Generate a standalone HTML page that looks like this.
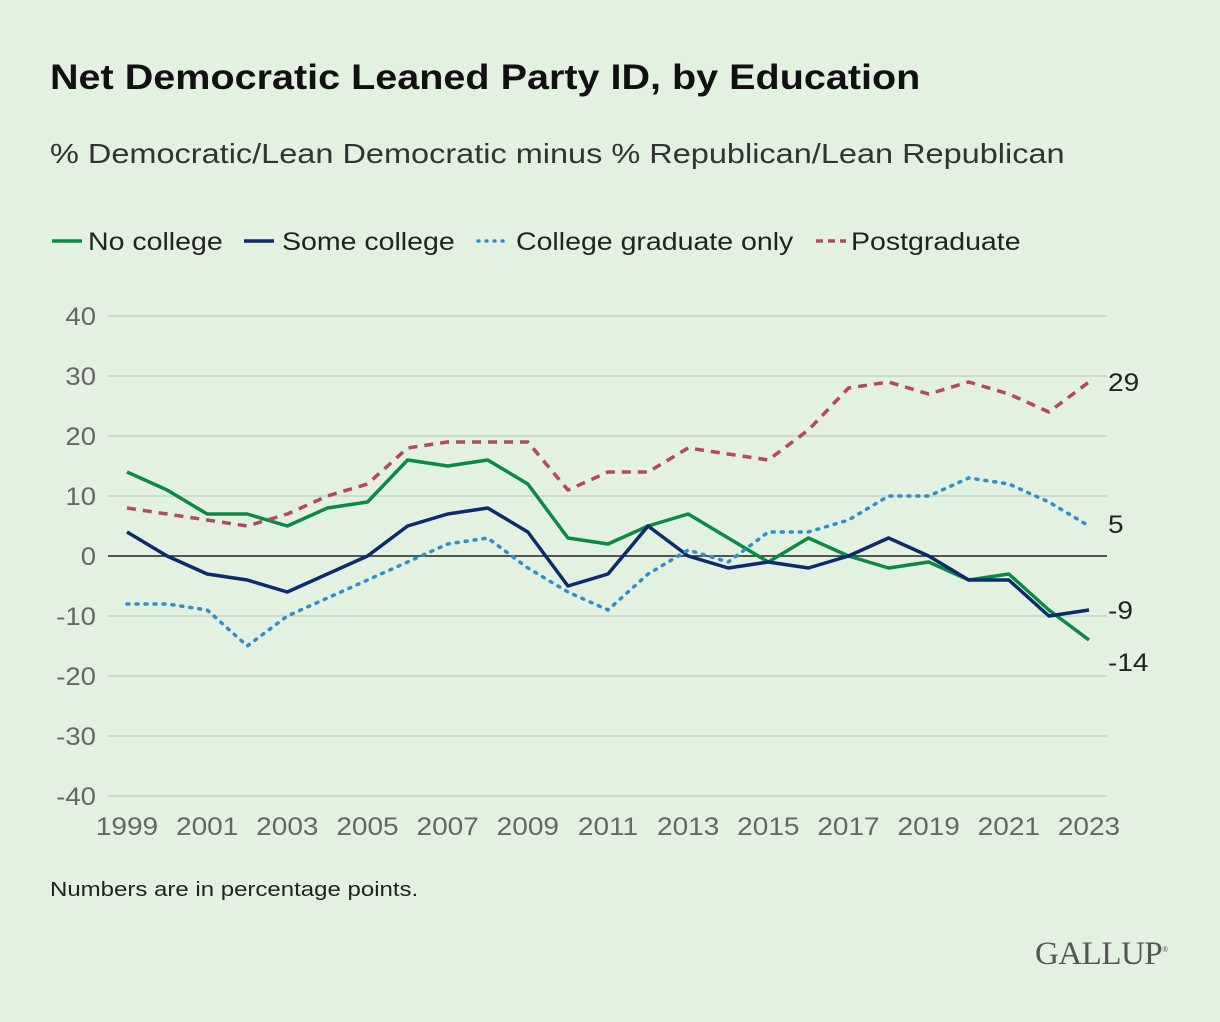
<!DOCTYPE html>
<html><head><meta charset="utf-8"><style>
body{margin:0;background:#e3f1e1;}
#wrap{position:relative;width:1220px;height:1022px;background:#e3f1e1;font-family:"Liberation Sans",sans-serif;overflow:hidden}
.t{position:absolute;white-space:nowrap;transform-origin:0 0}
</style></head><body>
<div id="wrap">
<div class="t" style="left:50px;top:58px;font-size:35px;font-weight:bold;color:#111;transform:scaleX(1.13)">Net Democratic Leaned Party ID, by Education</div>
<div class="t" style="left:50px;top:138px;font-size:28px;color:#333;transform:scaleX(1.16)">% Democratic/Lean Democratic minus % Republican/Lean Republican</div>
<svg id="svg" width="1220" height="1022" style="position:absolute;left:0;top:0"></svg>
<div class="t" style="left:50px;top:879px;font-size:20px;color:#222;transform:scaleX(1.2)">Numbers are in percentage points.</div>
<div class="t" style="left:1035px;top:936px;font-family:'Liberation Serif',serif;font-size:33px;color:#555;letter-spacing:-0.5px">GALLUP<sup style="font-size:8px">®</sup></div>
</div>
<script>
const years=[1999,2000,2001,2002,2003,2004,2005,2006,2007,2008,2009,2010,2011,2012,2013,2014,2015,2016,2017,2018,2019,2020,2021,2022,2023];
const noCollege=[14,11,7,7,5,8,9,16,15,16,12,3,2,5,7,3,-1,3,0,-2,-1,-4,-3,-9,-14];
const someCollege=[4,0,-3,-4,-6,-3,0,5,7,8,4,-5,-3,5,0,-2,-1,-2,0,3,0,-4,-4,-10,-9];
const collegeGrad=[-8,-8,-9,-15,-10,-7,-4,-1,2,3,-2,-6,-9,-3,1,-1,4,4,6,10,10,13,12,9,5];
const postgrad=[8,7,6,5,7,10,12,18,19,19,19,11,14,14,18,17,16,21,28,29,27,29,27,24,29];
const yTicks=[40,30,20,10,0,-10,-20,-30,-40];
const xTickLabels=[1999,2001,2003,2005,2007,2009,2011,2013,2015,2017,2019,2021,2023];
const legendLabels=["No college","Some college","College graduate only","Postgraduate"];

const NS="http://www.w3.org/2000/svg",svg=document.getElementById('svg');
const x=y=>127+(y-1999)*(1089-127)/24;
const yS=v=>556-v*6;
function mk(t,a){const e=document.createElementNS(NS,t);for(const k in a)e.setAttribute(k,a[k]);svg.appendChild(e);return e;}
function stretch(t,f){const w=t.getComputedTextLength();t.setAttribute('textLength',w*f);t.setAttribute('lengthAdjust','spacingAndGlyphs');}
yTicks.forEach(v=>{
  const l=mk('line',{x1:108,x2:1107,y1:yS(v),y2:yS(v),stroke:v===0?'#222':'#c5d6c3','stroke-width':1.5});
  
  
  const t=mk('text',{x:96,y:yS(v)+9,'text-anchor':'end','font-size':25,fill:'#666','font-family':'Liberation Sans, sans-serif'});
  t.textContent=v;
  
  
  stretch(t,1.1);
});
xTickLabels.forEach(yr=>{
  const t=mk('text',{x:x(yr),y:835,'text-anchor':'middle','font-size':25,fill:'#666','font-family':'Liberation Sans, sans-serif'});
  t.textContent=yr;
  
  
  stretch(t,1.12);
});
const series=[
 {d:noCollege,c:'#0b8a44',dash:null,n:'no-college'},
 {d:someCollege,c:'#0d2a6b',dash:null,n:'some-college'},
 {d:collegeGrad,c:'#2f8fcc',dash:'2 7',n:'college-graduate'},
 {d:postgrad,c:'#b24a59',dash:'9 7',n:'postgraduate'}];
series.forEach(s=>{
  const p=mk('polyline',{points:s.d.map((v,i)=>x(years[i])+','+yS(v)).join(' '),fill:'none',stroke:s.c,'stroke-width':3.5,'stroke-linejoin':'round','stroke-linecap':s.dash==='2 7'?'round':'butt'});
  if(s.dash)p.setAttribute('stroke-dasharray',s.dash);
  
  
  const last=s.d[s.d.length-1];
  let ly=yS(last)+9; if(s.n==='no-college')ly+=22; if(s.n==='college-graduate')ly-=2;
  const t=mk('text',{x:1108,y:ly,'font-size':25,fill:'#222','font-family':'Liberation Sans, sans-serif'});
  t.textContent=last;
  
  
  stretch(t,1.12);
});
const lx=[52,244,478,816];
const tx=[88,282,516,851];
legendLabels.forEach((lab,i)=>{
  const s=series[i];
  const l=mk('line',{x1:lx[i],x2:lx[i]+30,y1:241,y2:241,stroke:s.c,'stroke-width':3.5,'stroke-linecap':s.dash==='2 7'?'round':'butt'});
  if(s.dash)l.setAttribute('stroke-dasharray',s.dash==='2 7'?'1 7':'7 5');
  
  
  const t=mk('text',{x:tx[i],y:250,'font-size':25,fill:'#222','font-family':'Liberation Sans, sans-serif'});
  t.textContent=lab;
  
  
  stretch(t,1.14);
});
</script>
</body></html>
